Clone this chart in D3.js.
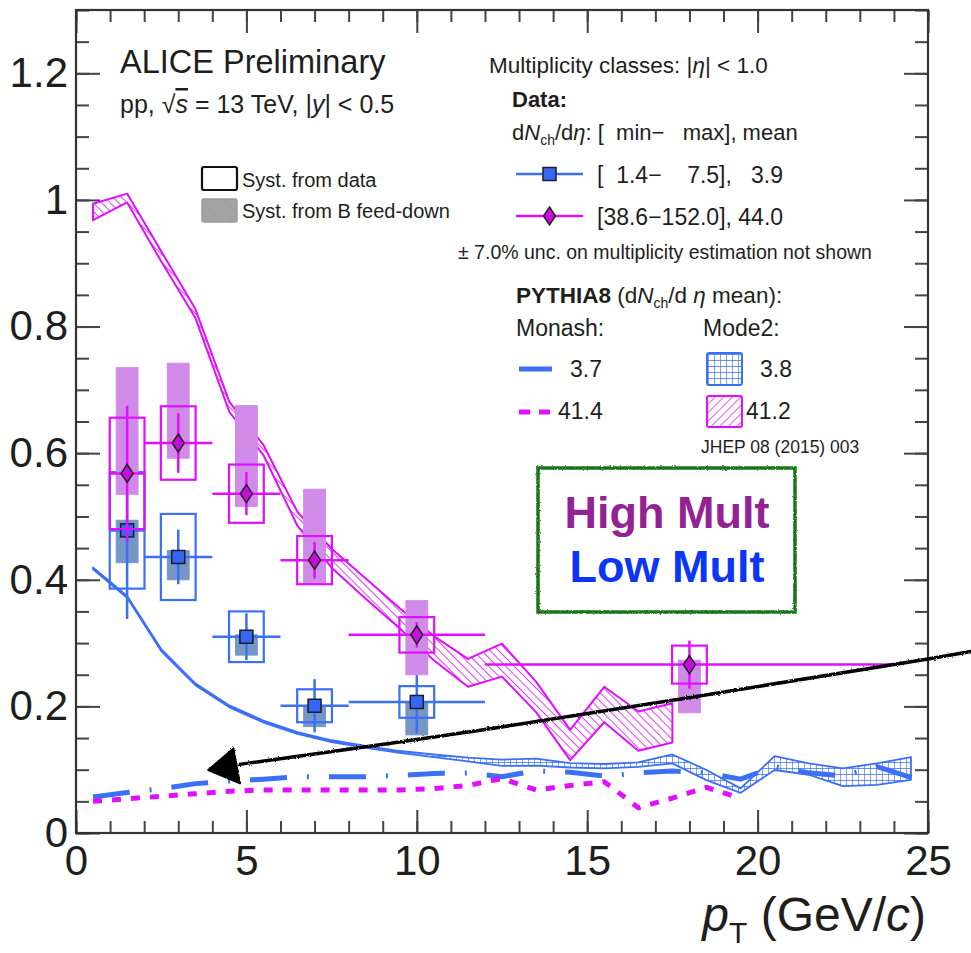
<!DOCTYPE html>
<html><head><meta charset="utf-8">
<script src="https://cdn.jsdelivr.net/npm/d3@7"></script>
<style>
body{margin:0;background:#fff;}
svg{display:block;}
text{font-family:"Liberation Sans",Arial,Helvetica,sans-serif;fill:#1e1e1e;white-space:pre;}
</style>
</head><body>
<svg id="c" width="971" height="953"></svg>
<script>
// ---------------- data ----------------
const xTicks = [0, 5, 10, 15, 20, 25];
const yTicks = [0, 0.2, 0.4, 0.6, 0.8, 1.0, 1.2];

// ALICE data: pT bins
const ptCenters = [1.5, 3, 5, 7, 10, 18];
const ptLow     = [1, 2, 4, 6, 8, 12];
const ptHigh    = [2, 4, 6, 8, 12, 24];

// Low multiplicity [1.4-7.5]
const lowVal    = [0.478, 0.436, 0.310, 0.201, 0.207];
const lowStat   = [0.140, 0.043, 0.037, 0.042, 0.050];
const lowSyst   = [0.092, 0.068, 0.040, 0.026, 0.025];
const lowFdUp   = [0.016, 0.010, 0.003, 0.000, 0.000];
const lowFdDown = [0.051, 0.036, 0.029, 0.033, 0.052];

// High multiplicity [38.6-152.0]
const highVal    = [0.568, 0.616, 0.536, 0.431, 0.313, 0.266];
const highStat   = [0.107, 0.047, 0.034, 0.029, 0.020, 0.038];
const highSyst   = [0.088, 0.058, 0.046, 0.038, 0.028, 0.030];
const highFdUp   = [0.167, 0.126, 0.139, 0.112, 0.054, 0.007];
const highFdDown = [0.033, 0.024, 0.020, 0.038, 0.063, 0.076];

// PYTHIA8 curves
const pythiaPt = [0.5, 1.5, 2.5, 3.5, 4.5, 5.5, 6.5, 7.5, 8.5, 9.5, 10.5, 11.5, 12.5,
                  13.5, 14.5, 15.5, 16.5, 17.5, 18.5, 19.5, 20.5, 21.5, 22.5, 23.5, 24.5];
// Mode2, low mult (3.8) - band
const mode2LowVal = [0.418, 0.373, 0.289, 0.235, 0.200, 0.176, 0.158, 0.145, 0.136, 0.128, 0.122, 0.116, 0.111,
                     0.112, 0.107, 0.1055, 0.108, 0.117, 0.0916, 0.067, 0.1105, 0.101, 0.088, 0.093, 0.102];
const mode2LowErr = [0.0015, 0.0015, 0.0015, 0.0015, 0.0015, 0.0015, 0.0015, 0.0015, 0.0015, 0.0015, 0.002, 0.003, 0.005,
                     0.0055, 0.0035, 0.0035, 0.0035, 0.007, 0.008, 0.0035, 0.011, 0.009, 0.014, 0.017, 0.018];
// Mode2, high mult (41.2) - band
const mode2HighPt  = [0.5, 1.5, 2.5, 3.5, 4.5, 5.5, 6.5, 7.5, 8.5, 9.5, 10.5, 11.5, 12.5, 13.5, 14.5, 15.5, 16.5, 17.5];
const mode2HighVal = [0.981, 1.003, 0.911, 0.821, 0.673, 0.605, 0.496, 0.434, 0.386, 0.339, 0.292, 0.253, 0.273, 0.215, 0.139, 0.203, 0.161, 0.174];
const mode2HighErr = [0.013, 0.007, 0.008, 0.007, 0.008, 0.008, 0.011, 0.015, 0.016, 0.016, 0.019, 0.022, 0.026, 0.024, 0.024, 0.028, 0.031, 0.031];
// Monash, low mult (3.7)
const monashLowVal = [0.057, 0.064, 0.070, 0.078, 0.082, 0.085, 0.089, 0.089, 0.089, 0.091, 0.094, 0.095, 0.089,
                      0.098, 0.096, 0.090, 0.095, 0.098, 0.095, 0.085, 0.105, 0.095, 0.090, 0.105, 0.088];
// Monash, high mult (41.4)
const monashHighPt  = [0.5, 1.5, 2.5, 3.5, 4.5, 5.5, 6.5, 7.5, 8.5, 9.5, 10.5, 11.5, 12.5, 13.5, 14.5, 15.5, 16.5, 17.5, 18.5, 19.5];
const monashHighVal = [0.050, 0.054, 0.058, 0.062, 0.066, 0.068, 0.068, 0.068, 0.068, 0.068, 0.070, 0.075, 0.086, 0.068, 0.075, 0.081, 0.040, 0.055, 0.072, 0.055];

// hand-drawn annotation arrow (in data units)
const arrowPt  = [26.3, 25.0, 12.44, 4.75];
const arrowVal = [0.287, 0.275, 0.167, 0.108];
const arrowHeadPt  = [3.88, 4.62, 4.81];
const arrowHeadVal = [0.0995, 0.1336, 0.0784];

// ---------------- setup ----------------
const MAG = "#e010ff", BLUE = "#3b6ff5";
const svg = d3.select("#c");
const M = {l: 76, r: 928, t: 10, b: 833};
const x = d3.scaleLinear().domain([0, 25]).range([M.l, M.r]);
const y = d3.scaleLinear().domain([0, 1.3]).range([M.b, M.t]);

const defs = svg.append("defs");
function hatch(id, angle, color, sz, w) {
  const p = defs.append("pattern").attr("id", id).attr("patternUnits", "userSpaceOnUse")
    .attr("width", sz).attr("height", sz).attr("patternTransform", `rotate(${angle})`);
  p.append("rect").attr("width", sz).attr("height", sz).attr("fill", "#fff");
  p.append("line").attr("x1", 0).attr("y1", 0).attr("x2", 0).attr("y2", sz).attr("stroke", color).attr("stroke-width", w);
}
hatch("hatchBand", -45, MAG, 6, 1.6);
hatch("hatchLeg", 45, MAG, 6, 1.4);
const gp = defs.append("pattern").attr("id", "gridB").attr("patternUnits", "userSpaceOnUse").attr("width", 6).attr("height", 6);
gp.append("rect").attr("width", 6).attr("height", 6).attr("fill", "#fff");
gp.append("path").attr("d", "M0,0H6M0,0V6").attr("stroke", BLUE).attr("stroke-width", 1.3);
const gh = defs.append("pattern").attr("id", "grayH").attr("patternUnits", "userSpaceOnUse")
  .attr("width", 8).attr("height", 8).attr("patternTransform", "rotate(-45)");
gh.append("rect").attr("width", 8).attr("height", 8).attr("fill", "#a4a4a4");
gh.append("line").attr("x1", 0).attr("y1", 0).attr("x2", 0).attr("y2", 8).attr("stroke", "#999").attr("stroke-width", 1.5);
const rough = defs.append("filter").attr("id", "rough").attr("x", "-5%").attr("y", "-5%").attr("width", "110%").attr("height", "110%");
rough.append("feTurbulence").attr("type", "fractalNoise").attr("baseFrequency", 0.6).attr("numOctaves", 2).attr("result", "n");
rough.append("feDisplacementMap").attr("in", "SourceGraphic").attr("in2", "n").attr("scale", 2.5);

// ---------------- axes ----------------
const axG = svg.append("g");
function styleAxis(g) {
  g.select(".domain").remove();
  g.selectAll(".tick line").attr("stroke", "#444").attr("stroke-width", 2);
  g.selectAll(".tick text").attr("fill", "#111").style("font-family", '"Liberation Sans",Arial,sans-serif').attr("font-size", 42);
}
const minorX = d3.range(0, 26, 1), minorY = d3.range(0, 1.31, 0.05);
axG.append("g").attr("transform", `translate(0,${M.b})`)
  .call(d3.axisBottom(x).tickValues(minorX).tickSizeInner(-12).tickFormat("")).call(styleAxis);
axG.append("g").attr("transform", `translate(0,${M.b})`)
  .call(d3.axisBottom(x).tickValues(xTicks).tickSizeInner(-23).tickPadding(12).tickFormat(d3.format("d"))).call(styleAxis);
axG.append("g").attr("transform", `translate(0,${M.t})`)
  .call(d3.axisTop(x).tickValues(minorX).tickSizeInner(-12).tickFormat("")).call(styleAxis);
axG.append("g").attr("transform", `translate(0,${M.t})`)
  .call(d3.axisTop(x).tickValues(xTicks).tickSizeInner(-23).tickFormat("")).call(styleAxis);
axG.append("g").attr("transform", `translate(${M.l},0)`)
  .call(d3.axisLeft(y).tickValues(minorY).tickSizeInner(-13).tickFormat("")).call(styleAxis);
axG.append("g").attr("transform", `translate(${M.l},0)`)
  .call(d3.axisLeft(y).tickValues(yTicks).tickSizeInner(-24).tickPadding(8).tickFormat(d => String(+d.toFixed(1)))).call(styleAxis);
axG.append("g").attr("transform", `translate(${M.r},0)`)
  .call(d3.axisRight(y).tickValues(minorY).tickSizeInner(-13).tickFormat("")).call(styleAxis);
axG.append("g").attr("transform", `translate(${M.r},0)`)
  .call(d3.axisRight(y).tickValues(yTicks).tickSizeInner(-24).tickFormat("")).call(styleAxis);
svg.append("rect").attr("x", M.l).attr("y", M.t).attr("width", M.r - M.l).attr("height", M.b - M.t)
  .attr("fill", "none").attr("stroke", "#333").attr("stroke-width", 2.2);

// axis title
const at = svg.append("text").attr("x", 926).attr("y", 931).attr("text-anchor", "end").attr("font-size", 48).attr("fill", "#111");
at.append("tspan").attr("font-style", "italic").text("p");
at.append("tspan").attr("font-size", 30).attr("dy", 12).text("T");
at.append("tspan").attr("dy", -12).text(" (GeV/");
at.append("tspan").attr("font-style", "italic").text("c");
at.append("tspan").text(")");

// ---------------- PYTHIA ----------------
const pg = svg.append("g");
const bandLow = pythiaPt.map((p, i) => ({p, v: mode2LowVal[i], e: mode2LowErr[i]}));
const bandHigh = mode2HighPt.map((p, i) => ({p, v: mode2HighVal[i], e: mode2HighErr[i]}));
const area = d3.area().x(d => x(d.p)).y0(d => y(d.v - d.e)).y1(d => y(d.v + d.e));
pg.append("path").attr("d", area(bandHigh)).attr("fill", "url(#hatchBand)").attr("stroke", MAG).attr("stroke-width", 2).attr("stroke-linejoin", "round");
pg.append("path").attr("d", area(bandLow)).attr("fill", "url(#gridB)").attr("stroke", BLUE).attr("stroke-width", 1.8).attr("stroke-linejoin", "round");
const line = d3.line().x(d => x(d.p)).y(d => y(d.v));
pg.append("path").attr("d", line(pythiaPt.map((p, i) => ({p, v: monashLowVal[i]}))))
  .attr("fill", "none").attr("stroke", BLUE).attr("stroke-width", 5).attr("stroke-dasharray", "37,20,2,20");
pg.append("path").attr("d", line(monashHighPt.map((p, i) => ({p, v: monashHighVal[i]}))))
  .attr("fill", "none").attr("stroke", MAG).attr("stroke-width", 5).attr("stroke-dasharray", "9,10");

// ---------------- ALICE data ----------------
const boxHalf = 0.51, fdHalf = 0.32;
function drawSeries(vals, stat, syst, fdUp, fdDn, color, fdColor, marker) {
  const g = svg.append("g");
  vals.forEach((v, i) => {
    const c = ptCenters[i];
    g.append("rect").attr("x", x(c - fdHalf)).attr("width", x(c + fdHalf) - x(c - fdHalf))
      .attr("y", y(v + fdUp[i])).attr("height", y(v - fdDn[i]) - y(v + fdUp[i]))
      .attr("fill", fdColor).attr("stroke", fdColor).attr("stroke-width", 1);
  });
  vals.forEach((v, i) => {
    const c = ptCenters[i];
    g.append("rect").attr("x", x(c - boxHalf)).attr("width", x(c + boxHalf) - x(c - boxHalf))
      .attr("y", y(v + syst[i])).attr("height", y(v - syst[i]) - y(v + syst[i]))
      .attr("fill", "none").attr("stroke", color).attr("stroke-width", 2.2);
  });
  vals.forEach((v, i) => {
    const c = ptCenters[i];
    g.append("line").attr("x1", x(ptLow[i])).attr("x2", x(ptHigh[i])).attr("y1", y(v)).attr("y2", y(v))
      .attr("stroke", color).attr("stroke-width", 2.5);
    g.append("line").attr("x1", x(c)).attr("x2", x(c)).attr("y1", y(v - stat[i])).attr("y2", y(v + stat[i]))
      .attr("stroke", color).attr("stroke-width", 2.5);
  });
  vals.forEach((v, i) => {
    const c = ptCenters[i];
    if (marker === "square") {
      g.append("rect").attr("x", x(c) - 6.5).attr("y", y(v) - 6.5).attr("width", 13).attr("height", 13)
        .attr("fill", "#3468f2").attr("stroke", "#1c1c2c").attr("stroke-width", 1.5);
    } else {
      g.append("path").attr("d", `M${x(c)},${y(v) - 9}L${x(c) + 6},${y(v)}L${x(c)},${y(v) + 9}L${x(c) - 6},${y(v)}Z`)
        .attr("fill", "#c410dc").attr("stroke", "#2a1a2a").attr("stroke-width", 1.5);
    }
  });
}
drawSeries(lowVal, lowStat, lowSyst, lowFdUp, lowFdDown, BLUE, "#7596c6", "square");
drawSeries(highVal, highStat, highSyst, highFdUp, highFdDown, MAG, "#d08ae8", "diamond");

// ---------------- texts & legends ----------------
function txt(xp, yp, size, parts, opts = {}) {
  const t = svg.append("text").attr("x", xp).attr("y", yp).attr("font-size", size);
  if (opts.anchor) t.attr("text-anchor", opts.anchor);
  if (opts.weight) t.attr("font-weight", opts.weight);
  if (opts.fill) t.style("fill", opts.fill);
  parts.forEach(p => {
    if (typeof p === "string") { t.append("tspan").text(p); return; }
    const s = t.append("tspan").text(p.t);
    if (p.i) s.attr("font-style", "italic");
    if (p.b) s.attr("font-weight", "bold");
    if (p.fs) s.attr("font-size", p.fs);
    if (p.dy) s.attr("dy", p.dy);
    if (p.deco) s.attr("text-decoration", p.deco);
  });
  return t;
}
txt(120, 73, 32.5, ["ALICE Preliminary"]);
txt(120, 113, 25, ["pp, ", "\u221A", {t: "s", i: 1, deco: "overline"}, " = 13 TeV, |", {t: "y", i: 1}, "| < 0.5"]);

svg.append("rect").attr("x", 202).attr("y", 167).attr("width", 35).attr("height", 23).attr("rx", 2)
  .attr("fill", "#fff").attr("stroke", "#111").attr("stroke-width", 2.2);
svg.append("rect").attr("x", 202).attr("y", 199).attr("width", 35).attr("height", 23).attr("rx", 2)
  .attr("fill", "url(#grayH)").attr("stroke", "#9a9a9a").attr("stroke-width", 1.5);
txt(242, 187, 20, ["Syst. from data"]);
txt(242, 218, 20, ["Syst. from B feed-down"]);

txt(489, 73, 22.5, ["Multiplicity classes: |", {t: "\u03B7", i: 1}, "| < 1.0"]);
txt(512, 107, 22, [{t: "Data:", b: 1}]);
txt(512, 140, 22, ["d", {t: "N", i: 1}, {t: "ch", fs: 14, dy: 5}, {t: "/d", dy: -5}, {t: "\u03B7", i: 1}, ": [  min\u2212   max], mean"]);
// data legend markers
svg.append("line").attr("x1", 516).attr("x2", 583).attr("y1", 174).attr("y2", 174).attr("stroke", BLUE).attr("stroke-width", 2.5);
svg.append("rect").attr("x", 543).attr("y", 167.5).attr("width", 13).attr("height", 13).attr("fill", "#3468f2").attr("stroke", "#1c1c2c").attr("stroke-width", 1.5);
svg.append("line").attr("x1", 516).attr("x2", 583).attr("y1", 216).attr("y2", 216).attr("stroke", MAG).attr("stroke-width", 2.5);
svg.append("path").attr("d", "M549.5,207L555.5,216L549.5,225L543.5,216Z").attr("fill", "#c410dc").attr("stroke", "#2a1a2a").attr("stroke-width", 1.5);
txt(597, 183, 23, ["[  1.4\u2212    7.5],   3.9"]);
txt(597, 225, 23, ["[38.6\u2212152.0], 44.0"]);
txt(458, 259, 19.5, ["\u00B1 7.0% unc. on multiplicity estimation not shown"]);

txt(516, 303, 22.5, [{t: "PYTHIA8", b: 1}, " (d", {t: "N", i: 1}, {t: "ch", fs: 14, dy: 5}, {t: "/d", dy: -5}, {t: " \u03B7", i: 1}, " mean):"]);
txt(516, 336, 23, ["Monash:"]);
txt(703, 336, 23, ["Mode2:"]);
svg.append("line").attr("x1", 519).attr("x2", 552).attr("y1", 369).attr("y2", 369).attr("stroke", BLUE).attr("stroke-width", 5);
svg.append("line").attr("x1", 519).attr("x2", 550).attr("y1", 412).attr("y2", 412).attr("stroke", MAG).attr("stroke-width", 5).attr("stroke-dasharray", "11,9");
txt(570, 377, 23, ["3.7"]);
txt(558, 419, 23, ["41.4"]);
svg.append("rect").attr("x", 707).attr("y", 353).attr("width", 35).attr("height", 32).attr("rx", 2).attr("fill", "url(#gridB)").attr("stroke", BLUE).attr("stroke-width", 2);
svg.append("rect").attr("x", 707).attr("y", 396).attr("width", 35).attr("height", 31).attr("rx", 2).attr("fill", "url(#hatchLeg)").attr("stroke", MAG).attr("stroke-width", 2);
txt(760, 377, 23, ["3.8"]);
txt(746, 419, 23, ["41.2"]);
txt(701, 453, 17.5, ["JHEP 08 (2015) 003"]);

// green annotation box
svg.append("rect").attr("x", 538).attr("y", 468).attr("width", 257).attr("height", 144)
  .attr("fill", "#fff").attr("stroke", "#177617").attr("stroke-width", 3.5).attr("filter", "url(#rough)");
txt(667, 528, 45, ["High Mult"], {anchor: "middle", weight: "bold", fill: "#932393"});
txt(667, 582, 45, ["Low Mult"], {anchor: "middle", weight: "bold", fill: "#0b36f5"});

// hand-drawn arrow
const arrowG = svg.append("g").attr("filter", "url(#rough)");
arrowG.append("path").attr("d", d3.line().x(d => x(d[0])).y(d => y(d[1])).curve(d3.curveCatmullRom)(arrowPt.map((p, i) => [p, arrowVal[i]])))
  .attr("fill", "none").attr("stroke", "#000").attr("stroke-width", 3.5);
arrowG.append("path").attr("d", d3.line().x(d => x(d[0])).y(d => y(d[1]))(arrowHeadPt.map((p, i) => [p, arrowHeadVal[i]])) + "Z")
  .attr("fill", "#000").attr("stroke", "#000").attr("stroke-width", 2).attr("stroke-linejoin", "round");
</script>
</body></html>
